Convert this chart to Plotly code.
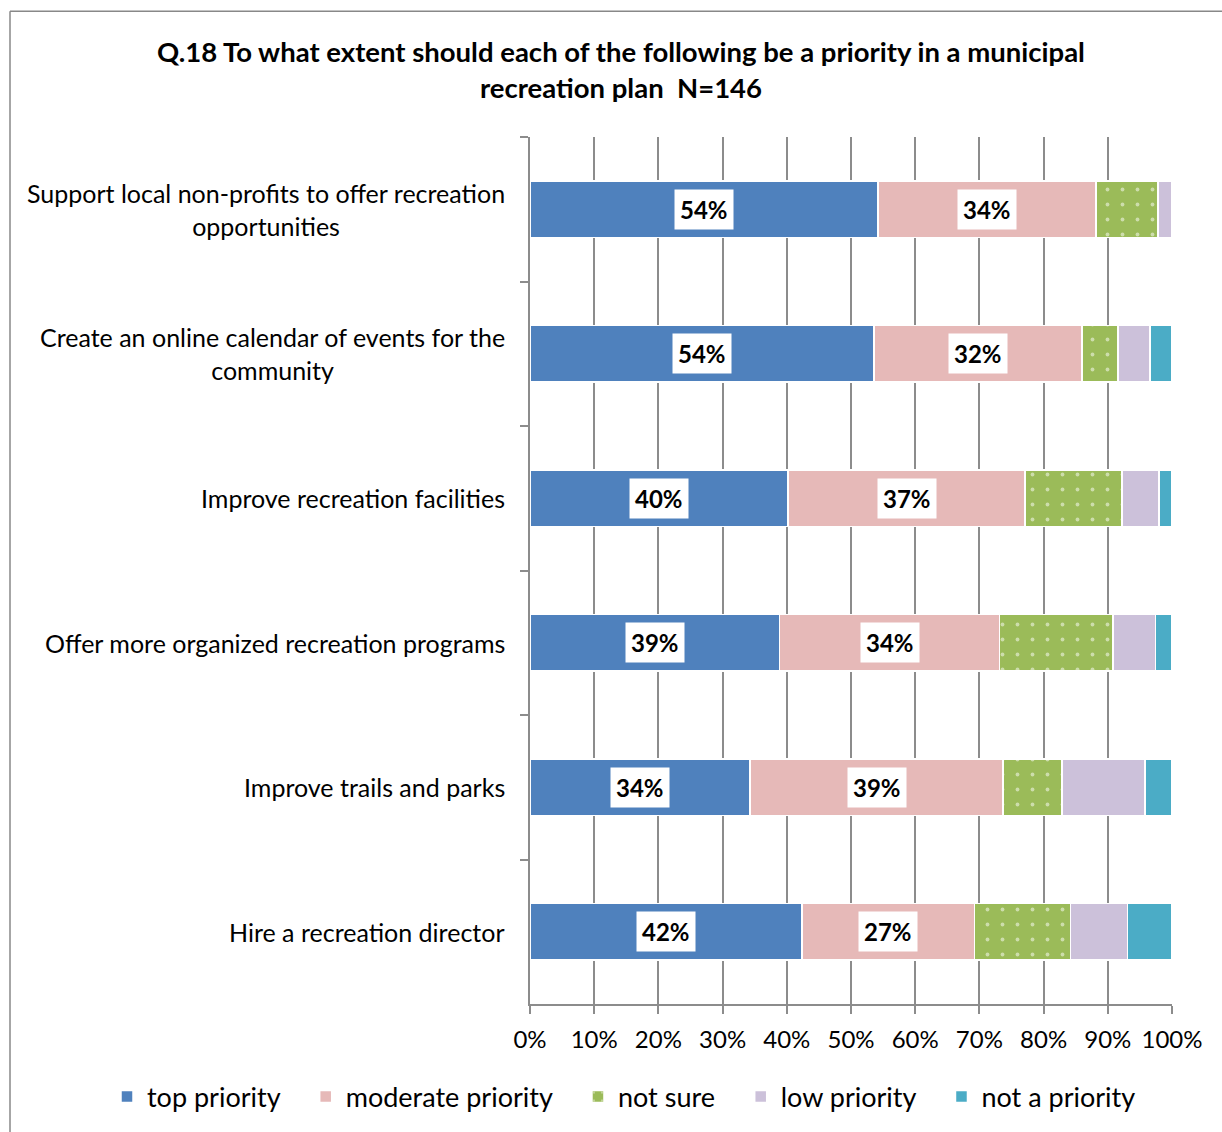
import plotly.graph_objects as go

categories = [
    "Support local non-profits to offer recreation<br>opportunities",
    "Create an online calendar of events for the<br>community",
    "Improve recreation facilities",
    "Offer more organized recreation programs",
    "Improve trails and parks",
    "Hire a recreation director",
]
series_names = ["top priority", "moderate priority", "not sure", "low priority", "not a priority"]
top_priority = [54.2, 53.6, 40.2, 38.9, 34.3, 42.4]
moderate_priority = [34.0, 32.4, 36.9, 34.2, 39.4, 26.8]
not_sure = [9.6, 5.6, 15.1, 17.7, 9.2, 15.0]
low_priority = [2.2, 5.0, 5.8, 6.6, 12.9, 8.9]
not_a_priority = [0.0, 3.4, 2.0, 2.6, 4.2, 6.9]
colors = ["#4F81BD", "#E6B9B8", "#9BBB59", "#CCC1DA", "#4BACC6"]
xticks = [0, 10, 20, 30, 40, 50, 60, 70, 80, 90, 100]
labeled = [True, True, False, False, False]

values = [top_priority, moderate_priority, not_sure, low_priority, not_a_priority]
FONT = "Lato"
W, H = 1222, 1132
L, R, T, B = 530, 50, 137, 127
PW, PH = W - L - R, H - T - B


def px_x(p):
    return (p - L) / PW


def px_y(p):
    return (PH + T - p) / PH


fig = go.Figure()
for name, vals, col in zip(series_names, values, colors):
    marker = dict(color=col, line=dict(color="white", width=1.5))
    if name == "not sure":
        marker["pattern"] = dict(shape=".", fgcolor="white", bgcolor=col, size=15, solidity=0.05, fillmode="overlay")
    fig.add_trace(go.Bar(
        y=categories, x=vals, name=name + "\u00a0\u00a0\u00a0", orientation="h",
        marker=marker, width=0.39, hovertemplate=name + ": %{x}%<extra></extra>",
    ))

annotations = []
# data labels with white boxes
for si, (vals, lab) in enumerate(zip(values, labeled)):
    if not lab:
        continue
    for ci, v in enumerate(vals):
        start = sum(values[k][ci] for k in range(si))
        annotations.append(dict(
            x=start + v / 2, y=categories[ci], xref="x", yref="y",
            text=f"<b>{v:.0f}%</b>", showarrow=False,
            font=dict(family=FONT, size=24, color="black"),
            bgcolor="white", borderpad=5,
        ))
# category labels (centered multi-line, right edge near axis)
for c in categories:
    annotations.append(dict(
        x=px_x(507), xref="paper", y=c, yref="y",
        xanchor="right", yanchor="middle", align="center",
        text=c, showarrow=False,
        font=dict(family=FONT, size=25, color="black"),
    ))

fig.update_layout(
    barmode="stack",
    width=W, height=H,
    margin=dict(l=L, r=R, t=T, b=B),
    paper_bgcolor="white", plot_bgcolor="white",
    font=dict(family=FONT, size=24, color="black"),
    title=dict(
        text="<b>Q.18 To what extent should each of the following be a priority in a municipal<br>recreation plan  N=146</b>",
        x=621 / W, xanchor="center", y=1 - 62 / H, yanchor="middle",
        font=dict(family=FONT, size=27.5, color="black"),
    ),
    legend=dict(
        orientation="h", x=px_x(107), xanchor="left", y=px_y(1097), yanchor="middle",
        font=dict(family=FONT, size=27, color="black"),
        traceorder="normal", itemwidth=30,
    ),
    annotations=annotations,
    shapes=[
        dict(type="line", xref="paper", yref="paper",
             x0=px_x(10), x1=px_x(1230), y0=px_y(11), y1=px_y(11),
             line=dict(color="#888888", width=1.5), layer="below"),
        dict(type="line", xref="paper", yref="paper",
             x0=px_x(10), x1=px_x(10), y0=px_y(11), y1=px_y(1140),
             line=dict(color="#888888", width=1.5), layer="below"),
    ],
)
fig.update_xaxes(
    range=[0, 100], tickvals=xticks, ticktext=[f"{t}%" for t in xticks],
    showgrid=True, gridcolor="#8c8c8c", gridwidth=1.5,
    showline=True, linecolor="#8c8c8c", linewidth=1.5,
    ticks="outside", ticklen=8, tickcolor="#8c8c8c", tickwidth=1.5,
    tickfont=dict(family=FONT, size=24), zeroline=False, fixedrange=True,
    ticklabelstandoff=5,
)
fig.update_yaxes(
    autorange="reversed", tickson="boundaries",
    showline=True, linecolor="#8c8c8c", linewidth=1.5,
    ticks="outside", ticklen=8, tickcolor="#8c8c8c", tickwidth=1.5,
    showticklabels=False, showgrid=False, fixedrange=True,
)

fig.write_html("out.html", config={"displayModeBar": False},
               post_script="document.body.style.margin='0';document.body.style.padding='0';")
